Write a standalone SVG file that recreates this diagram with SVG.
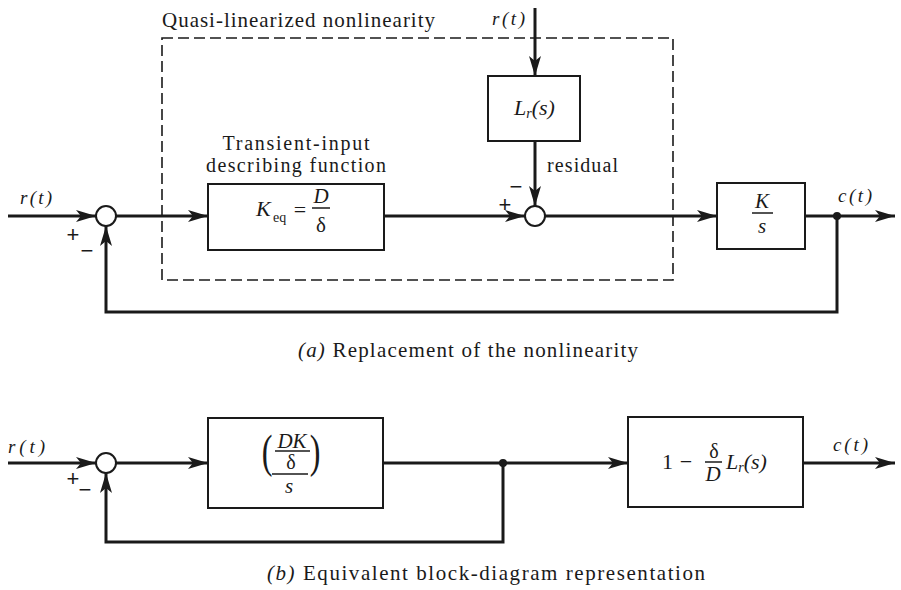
<svg xmlns="http://www.w3.org/2000/svg" width="901" height="590" viewBox="0 0 901 590">
<defs>
<style>
.ln{fill:none;stroke:#1a1a1a;stroke-width:3}
.box{fill:#fff;stroke:#1a1a1a;stroke-width:2}
.sum{fill:#fff;stroke:#1a1a1a;stroke-width:2}
.dash{fill:none;stroke:#1a1a1a;stroke-width:1.6;stroke-dasharray:11 5}
.t{font-family:"Liberation Serif","Times New Roman",serif;fill:#1a1a1a}
.m{font-family:"Liberation Serif","Times New Roman",serif;font-style:italic;fill:#1a1a1a}
.pm{font-family:"Liberation Sans",Arial,sans-serif;fill:#1a1a1a;font-size:22px}
.bar{stroke:#1a1a1a;stroke-width:1.5}
</style>
<marker id="arr" markerUnits="userSpaceOnUse" markerWidth="22" markerHeight="12" refX="20" refY="6" orient="auto">
<path d="M0,0 L20,6 L0,12 L5,6 Z" fill="#1a1a1a"/>
</marker>
</defs>
<rect width="901" height="590" fill="#fff"/>

<g id="connectors">
<path class="ln" d="M8,216 H96" marker-end="url(#arr)"/>
<path class="ln" d="M116,216 H208" marker-end="url(#arr)"/>
<path class="ln" d="M384,216 H525" marker-end="url(#arr)"/>
<path class="ln" d="M535,8 V76" marker-end="url(#arr)"/>
<path class="ln" d="M535,141 V206" marker-end="url(#arr)"/>
<path class="ln" d="M545,216 H717" marker-end="url(#arr)"/>
<path class="ln" d="M805,216 H895" marker-end="url(#arr)"/>
<path class="ln" d="M837,216 V312 H106 V226" marker-end="url(#arr)"/>
<path class="ln" d="M8,463 H96" marker-end="url(#arr)"/>
<path class="ln" d="M116,463 H208" marker-end="url(#arr)"/>
<path class="ln" d="M383,463 H628" marker-end="url(#arr)"/>
<path class="ln" d="M803,463 H895" marker-end="url(#arr)"/>
<path class="ln" d="M503,463 V542 H106 V473" marker-end="url(#arr)"/>
<circle cx="837" cy="216" r="4" fill="#1a1a1a"/>
<circle cx="503" cy="463" r="4" fill="#1a1a1a"/>
</g>

<g id="nonlinearity-boundary">
<rect class="dash" x="162" y="38" width="511" height="242"/>
<text class="t" x="162" y="27" font-size="21" textLength="273" lengthAdjust="spacing">Quasi-linearized nonlinearity</text>
</g>

<g id="sum1a">
<circle class="sum" cx="106" cy="216" r="10"/>
<text class="pm" x="73" y="242" text-anchor="middle">+</text>
<text class="pm" x="87" y="258" text-anchor="middle">−</text>
</g>

<g id="keq">
<rect class="box" x="208" y="184" width="176" height="66"/>
<text class="t" x="296" y="150" font-size="20" text-anchor="middle" textLength="147" lengthAdjust="spacing">Transient-input</text>
<text class="t" x="296" y="172" font-size="20" text-anchor="middle" textLength="180" lengthAdjust="spacing">describing function</text>
<text class="m" x="256" y="216" font-size="22">K</text>
<text class="t" x="273" y="222" font-size="14">eq</text>
<text class="t" x="300" y="217" font-size="22" text-anchor="middle">=</text>
<text class="m" x="321" y="203" font-size="21" text-anchor="middle">D</text>
<line class="bar" x1="312" y1="208" x2="330" y2="208"/>
<text class="t" x="321" y="232" font-size="21" text-anchor="middle">δ</text>
</g>

<g id="rtop">
<text class="m" x="492" y="25" font-size="19" textLength="33" lengthAdjust="spacing">r(t)</text>
</g>

<g id="lr">
<rect class="box" x="488" y="76" width="92" height="65"/>
<text class="m" x="514" y="115" font-size="22">L<tspan font-size="14" dy="3">r</tspan><tspan dy="-3">(s)</tspan></text>
<text class="t" x="547" y="172" font-size="20" textLength="71" lengthAdjust="spacing">residual</text>
</g>

<g id="sum2a">
<circle class="sum" cx="535" cy="216" r="10"/>
<text class="pm" x="505" y="212" text-anchor="middle">+</text>
<text class="pm" x="516" y="194" text-anchor="middle">−</text>
</g>

<g id="ks">
<rect class="box" x="717" y="183" width="88" height="66"/>
<text class="m" x="762" y="208" font-size="21" text-anchor="middle">K</text>
<line class="bar" x1="752" y1="213" x2="773" y2="213"/>
<text class="m" x="762" y="233" font-size="21" text-anchor="middle">s</text>
</g>

<g id="labels-a">
<text class="m" x="20" y="204" font-size="19" textLength="32" lengthAdjust="spacing">r(t)</text>
<text class="m" x="838" y="202" font-size="19" textLength="34" lengthAdjust="spacing">c(t)</text>
<text class="t" x="298" y="357" font-size="21" textLength="340" lengthAdjust="spacing"><tspan font-style="italic">(a)</tspan> Replacement of the nonlinearity</text>
</g>

<g id="sum-b">
<circle class="sum" cx="106" cy="463" r="10"/>
<text class="pm" x="73" y="486" text-anchor="middle">+</text>
<text class="pm" x="85" y="497" text-anchor="middle">−</text>
</g>

<g id="dks">
<rect class="box" x="208" y="418" width="175" height="90"/>
<text class="t" x="267" y="467" font-size="46" text-anchor="middle" transform="translate(267 467) scale(0.7 1) translate(-267 -467)">(</text>
<text class="t" x="315" y="467" font-size="46" text-anchor="middle" transform="translate(315 467) scale(0.7 1) translate(-315 -467)">)</text>
<text class="m" x="292" y="448" font-size="21" text-anchor="middle">DK</text>
<line class="bar" x1="275" y1="451" x2="310" y2="451"/>
<text class="t" x="291" y="469" font-size="20" text-anchor="middle">δ</text>
<line class="bar" x1="272" y1="474" x2="308" y2="474"/>
<text class="m" x="289" y="493" font-size="21" text-anchor="middle">s</text>
</g>

<g id="out-b">
<rect class="box" x="628" y="417" width="175" height="90"/>
<text class="t" x="662" y="469" font-size="22">1</text>
<text class="t" x="686" y="469" font-size="22" text-anchor="middle">−</text>
<text class="t" x="714" y="458" font-size="20" text-anchor="middle">δ</text>
<line class="bar" x1="705" y1="462" x2="722" y2="462" stroke-width="1"/>
<text class="m" x="713" y="481" font-size="21" text-anchor="middle">D</text>
<text class="m" x="726" y="469" font-size="22">L<tspan font-size="14" dy="3">r</tspan><tspan dy="-3">(s)</tspan></text>
</g>

<g id="labels-b">
<text class="m" x="8" y="453" font-size="19" textLength="37" lengthAdjust="spacing">r(t)</text>
<text class="m" x="833" y="451" font-size="19" textLength="35" lengthAdjust="spacing">c(t)</text>
<text class="t" x="267" y="580" font-size="21" textLength="438" lengthAdjust="spacing"><tspan font-style="italic">(b)</tspan> Equivalent block-diagram representation</text>
</g>
</svg>
